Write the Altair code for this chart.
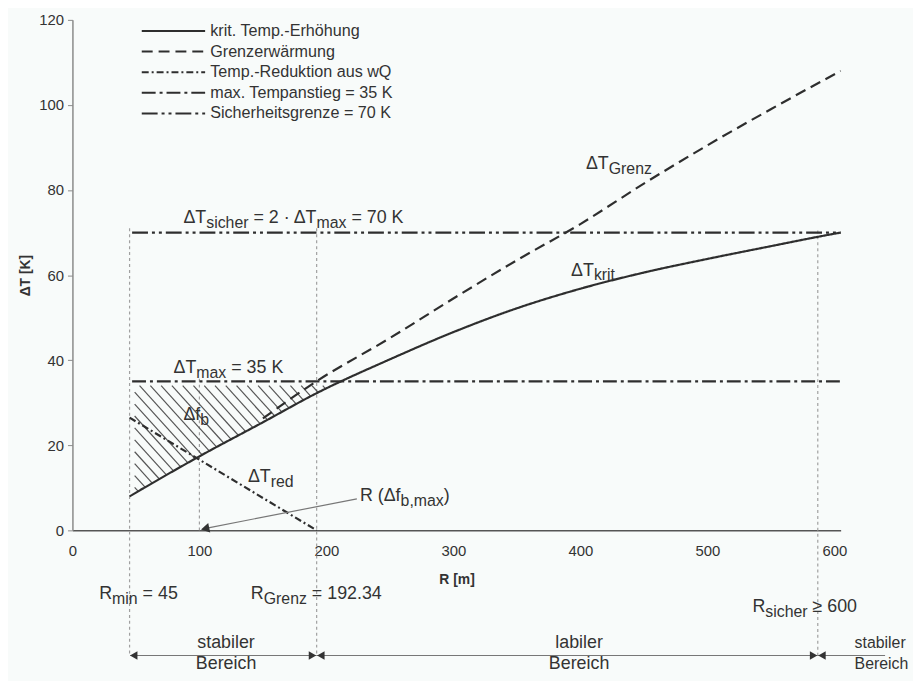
import altair as alt
import numpy as np
import pandas as pd

# ---------------- data ----------------
R_KRIT = [45, 100, 150, 192, 250, 300, 350, 400, 450, 500, 550, 587, 605]
T_KRIT = [8, 17.4, 25.4, 32.2, 40.2, 46.6, 52.2, 56.8, 60.6, 63.8, 66.8, 69, 70]

R_GRENZ = [150, 192, 250, 300, 350, 400, 450, 500, 550, 605]
T_GRENZ = [26.3, 35, 45.2, 54.5, 63.5, 72, 81.5, 90.5, 99, 108]

R_RED = [45, 192.34]
T_RED = [26.5, 0]

R_LIMIT = [47, 605]
T_MAX = [35, 35]
T_SICHER = [70, 70]

SERIES = ["krit. Temp.-Erhöhung", "Grenzerwärmung", "Temp.-Reduktion aus wQ",
          "max. Tempanstieg = 35 K", "Sicherheitsgrenze = 70 K"]

R_MARKS = [45, 192.34, 587]      # R_min, R_Grenz, R_sicher
R_FB_MAX = 100

X_TICKS = [0, 100, 200, 300, 400, 500, 600]
Y_TICKS = [0, 20, 40, 60, 80, 100, 120]

# ---------------- layout / style ----------------
WIDTH, HEIGHT = 775, 515
XDOM, YDOM = [0, 605], [0, 120]
PXR = WIDTH / (XDOM[1] - XDOM[0])
PXT = HEIGHT / (YDOM[1] - YDOM[0])
FONT = "Liberation Sans"
INK = "#2e2e2e"
TXT = "#333333"
FAINT = "#a0a0a0"
DASHES = [[1, 0], [11, 6], [7, 3, 2, 3], [14, 4, 3, 4], [16, 4, 3, 4, 3, 4]]
FS_MAIN, FS_SUB, DROP = 18, 16, 5

xs = alt.Scale(domain=XDOM, nice=False, zero=False)
ys = alt.Scale(domain=YDOM, nice=False, zero=False)
dash_scale = alt.Scale(domain=SERIES, range=DASHES)

x_axis = alt.Axis(values=X_TICKS, title="R [m]", grid=False, tickSize=0, labelPadding=13,
                  labelFont=FONT, labelFontSize=15, labelColor=TXT, labelFlush=False,
                  domainColor="#555555", domainWidth=1.5,
                  titleFont=FONT, titleFontSize=14, titleFontWeight="bold", titleColor=TXT,
                  titlePadding=15)
y_axis = alt.Axis(values=Y_TICKS, title="ΔT [K]", grid=False, tickSize=5, tickColor="#8a8a8a",
                  labelPadding=4, labelFont=FONT, labelFontSize=15, labelColor=TXT,
                  domainColor="#8a8a8a", domainWidth=1.5,
                  titleFont=FONT, titleFontSize=14, titleFontWeight="bold", titleColor=TXT,
                  titlePadding=6)


def X(field):
    return alt.X(field, type="quantitative", scale=xs, axis=x_axis)


def Y(field):
    return alt.Y(field, type="quantitative", scale=ys, axis=y_axis)


# ---------------- curves ----------------
rows = []
for name, rr, tt in [(SERIES[0], R_KRIT, T_KRIT), (SERIES[1], R_GRENZ, T_GRENZ),
                     (SERIES[2], R_RED, T_RED), (SERIES[3], R_LIMIT, T_MAX),
                     (SERIES[4], R_LIMIT, T_SICHER)]:
    for i, (r, t) in enumerate(zip(rr, tt)):
        rows.append({"series": name, "R": r, "T": t, "i": i})
curve_df = pd.DataFrame(rows)

curves = alt.Chart(curve_df).mark_line(strokeWidth=2.2, color=INK, clip=False,
                                       interpolate="monotone").encode(
    x=X("R"), y=Y("T"),
    strokeDash=alt.StrokeDash("series:N", scale=dash_scale, legend=None),
    order="i:Q",
)

# ---------------- hatching of Δf_b (between krit curve and 35 K) ----------------
K_SLOPE, C_STEP = 0.33, 2.8
R_LEFT, T_TOP = 49, 34
grid = np.linspace(R_LEFT, 230, 3000)
krit_g = np.interp(grid, R_KRIT, T_KRIT)
hatch = []
c = np.interp(R_LEFT, R_KRIT, T_KRIT) + K_SLOPE * R_LEFT + C_STEP * 0.5
while True:
    ra = max(R_LEFT, (c - T_TOP) / K_SLOPE)
    ta = c - K_SLOPE * ra
    g = c - K_SLOPE * grid - krit_g
    idx = np.where(g <= 0)[0]
    if len(idx) == 0:
        break
    rb = grid[idx[0]]
    tb = c - K_SLOPE * rb
    if rb <= ra:
        break
    hatch.append({"R": ra, "T": ta, "R2": rb, "T2": tb})
    c += C_STEP
hatch_df = pd.DataFrame(hatch)
hatch_layer = alt.Chart(hatch_df).mark_rule(color="#555555", strokeWidth=1.2, clip=False).encode(
    x=X("R"), y=Y("T"), x2="R2:Q", y2="T2:Q")

# ---------------- faint vertical guide lines ----------------
T_ARROW = -29.4
guide_df = pd.DataFrame({"R": R_MARKS + [R_FB_MAX],
                         "T0": [71, 71, 70.5, 0], "T1": [T_ARROW, T_ARROW, T_ARROW, 36]})
guides = alt.Chart(guide_df).mark_rule(color=FAINT, strokeWidth=1.2, strokeDash=[3, 3], clip=False).encode(
    x=X("R"), y=Y("T0"), y2="T1:Q")

# ---------------- legend (drawn with the same dash scale) ----------------
LEG_R0, LEG_R1, LEG_RT = 54.6, 104.5, 108.5
LEG_T0, LEG_STEP = 117.4, 4.85
leg_df = pd.DataFrame({"series": SERIES, "R0": LEG_R0, "R1": LEG_R1,
                       "T": [LEG_T0 - i * LEG_STEP for i in range(len(SERIES))], "RT": LEG_RT})
leg_lines = alt.Chart(leg_df).mark_rule(strokeWidth=2, color=INK, clip=False).encode(
    x=X("R0"), x2="R1:Q", y=Y("T"),
    strokeDash=alt.StrokeDash("series:N", scale=dash_scale, legend=None))
leg_text = alt.Chart(leg_df).mark_text(align="left", baseline="middle", font=FONT, fontSize=16.3,
                                        color=TXT, clip=False).encode(
    x=X("RT"), y=Y("T"), text="series:N")

# ---------------- annotation text with subscripts ----------------
W = {' ': 278, '=': 584, '·': 278, 'Δ': 668, 'T': 611, 's': 500, 'i': 222, 'c': 500, 'h': 556,
     'e': 556, 'r': 333, 'm': 833, 'a': 556, 'x': 500, 'K': 667, 'f': 278, 'b': 556, 'R': 722,
     '(': 333, ')': 333, ',': 278, 'd': 556, 'G': 778, 'n': 556, 'z': 500, 'k': 500, 't': 278,
     '≥': 549, '.': 278, 'l': 222}


def tw(s, fs):
    return sum(W.get(ch, 556) for ch in s) / 1000.0 * fs


def pieces(r0, t0, parts):
    out, x = [], 0.0
    for txt, sub in parts:
        fs = FS_SUB if sub else FS_MAIN
        lead = len(txt) - len(txt.lstrip(" "))
        out.append({"text": txt.strip(" "), "R": r0 + (x + tw(" " * lead, fs)) / PXR,
                    "T": t0 - (DROP / PXT if sub else 0.0), "fs": fs})
        x += tw(txt, fs)
    return out


ann = []
ann += pieces(87.4, 72.3, [("ΔT", 0), ("sicher", 1), (" = 2 · ΔT", 0), ("max", 1), (" = 70 K", 0)])
ann += pieces(79.6, 37.0, [("ΔT", 0), ("max", 1), (" = 35 K", 0)])
ann += pieces(87.4, 25.9, [("Δf", 0), ("b", 1)])
ann += pieces(138.2, 11.4, [("ΔT", 0), ("red", 1)])
ann += pieces(226.4, 6.8, [("R (Δf", 0), ("b,max", 1), (")", 0)])
ann += pieces(404.4, 85.0, [("ΔT", 0), ("Grenz", 1)])
ann += pieces(392.7, 59.9, [("ΔT", 0), ("krit", 1)])
ann += pieces(21.1, -16.1, [("R", 0), ("min", 1), (" = 45", 0)])
ann += pieces(140.5, -16.1, [("R", 0), ("Grenz", 1), (" = 192.34", 0)])
ann += pieces(535.5, -19.1, [("R", 0), ("sicher", 1), (" ≥ 600", 0)])
ann += [{"text": "stabiler", "R": 616.0, "T": -27.7, "fs": 16},
        {"text": "Bereich", "R": 616.0, "T": -32.6, "fs": 16}]
ann_df = pd.DataFrame(ann)
ann_layer = alt.Chart(ann_df).mark_text(align="left", baseline="alphabetic", font=FONT, color=TXT,
                                         clip=False).encode(
    x=X("R"), y=Y("T"), text="text:N", size=alt.Size("fs:Q", scale=None))

zone_df = pd.DataFrame({"text": ["stabiler", "Bereich", "labiler", "Bereich"],
                        "R": [121, 121, 399, 399], "T": [-27.7, -32.6, -27.7, -32.6]})
zone_text = alt.Chart(zone_df).mark_text(align="center", baseline="alphabetic", font=FONT,
                                          fontSize=FS_MAIN, color=TXT, clip=False).encode(
    x=X("R"), y=Y("T"), text="text:N")

# ---------------- arrows ----------------
span_df = pd.DataFrame({"R": [45.5, 192.34, 587], "R2": [192.34, 587, 640], "T": T_ARROW})
spans = alt.Chart(span_df).mark_rule(color="#777777", strokeWidth=1.1, clip=False).encode(
    x=X("R"), x2="R2:Q", y=Y("T"))

HEAD_OFF = 4.2 / PXR
heads_l = pd.DataFrame({"R": [45 + HEAD_OFF, 192.34 + HEAD_OFF, 587 + HEAD_OFF], "T": T_ARROW})
heads_r = pd.DataFrame({"R": [192.34 - HEAD_OFF, 587 - HEAD_OFF], "T": T_ARROW})
head_l = alt.Chart(heads_l).mark_point(shape="triangle-left", size=75, filled=True, opacity=1,
                                       color="#333333", clip=False).encode(x=X("R"), y=Y("T"))
head_r = alt.Chart(heads_r).mark_point(shape="triangle-right", size=75, filled=True, opacity=1,
                                       color="#333333", clip=False).encode(x=X("R"), y=Y("T"))

pointer_df = pd.DataFrame({"R": [R_FB_MAX + 7], "T": [0.6], "R2": [224], "T2": [7.4]})
pointer = alt.Chart(pointer_df).mark_rule(color="#777777", strokeWidth=1.2, clip=False).encode(
    x=X("R"), y=Y("T"), x2="R2:Q", y2="T2:Q")
pointer_head = alt.Chart(pd.DataFrame({"R": [R_FB_MAX + 4.5], "T": [0.4]})).mark_point(
    shape="triangle-left", size=95, filled=True, opacity=1, color="#333333", angle=348, clip=False
).encode(x=X("R"), y=Y("T"))

chart = alt.layer(
    guides, hatch_layer, curves, leg_lines, leg_text, pointer, pointer_head,
    spans, head_l, head_r, ann_layer, zone_text
).properties(
    width=WIDTH, height=HEIGHT,
    padding={"left": 65, "top": 9, "right": 73, "bottom": 149},
    autosize=alt.AutoSizeParams(type="none"),
    background="#f8fbfa",
).configure_view(stroke=None)

chart.save("out.html", embed_options={"renderer": "svg", "actions": False})
